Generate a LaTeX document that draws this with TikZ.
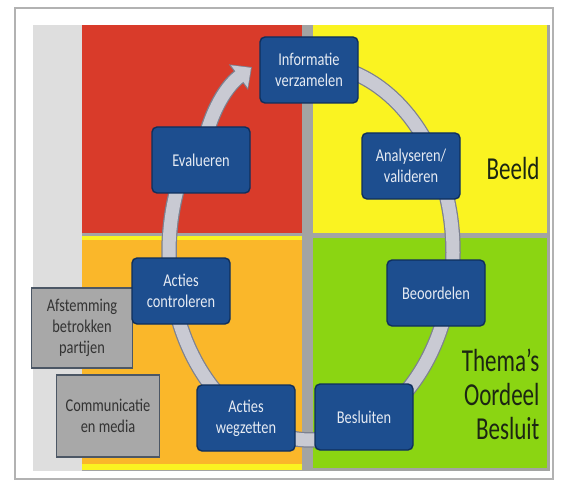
\documentclass[tikz,border=0pt]{standalone}
\usepackage{fontspec}
\setmainfont{Carlito}[FakeStretch=0.8]
\newfontfamily\kopfont{Carlito}[FakeStretch=0.72]
\usetikzlibrary{arrows.meta,backgrounds}
\definecolor{rood}{HTML}{D93B2A}
\definecolor{geel}{HTML}{FAF321}
\definecolor{oranje}{HTML}{FAB72A}
\definecolor{groen}{HTML}{8BD512}
\definecolor{spleet}{HTML}{A3A4A3}
\definecolor{strook}{HTML}{DEDEDE}
\definecolor{ringgrijs}{HTML}{C9CAD3}
\definecolor{ringrand}{HTML}{7D8190}
\definecolor{boxblauw}{HTML}{1D4E8F}
\definecolor{boxrand}{HTML}{0F2F5C}
\definecolor{boxtekst}{HTML}{E6EBF3}
\definecolor{grijsvak}{HTML}{A8A8A8}
\definecolor{grijsrand}{HTML}{4C5765}
\definecolor{koptekst}{HTML}{1C2612}
\begin{document}
\begin{tikzpicture}[x=1pt,y=-1pt,
    stap/.style={draw=boxrand,fill=boxblauw,line width=1.4pt,rounded corners=5pt,
      minimum width=98pt,minimum height=66pt,text=boxtekst,align=center,
      font=\fontsize{18}{21}\selectfont},
    grijsbox/.style={draw=grijsrand,fill=grijsvak,line width=1.6pt,text=black!80,
      align=center,font=\fontsize{18}{21}\selectfont},
    kop/.style={text=koptekst,anchor=east,align=right,font=\kopfont\fontsize{32}{34}\selectfont}]
  \useasboundingbox (0,0) rectangle (561,486);
  \node[stap] (info) at (309,70) {Informatie\\verzamelen};
  \node[stap] (eval) at (201,160) {Evalueren};
  \node[stap] (anal) at (411,166) {Analyseren/\\valideren};
  \node[grijsbox,minimum width=101pt,minimum height=80pt] (afst) at (82,328) {Afstemming\\betrokken\\partijen};
  \node[grijsbox,minimum width=103pt,minimum height=82pt] (comm) at (108,416) {Communicatie\\en media};
  \node[stap] (contr) at (181,291) {Acties\\controleren};
  \node[stap] (beoor) at (436,293) {Beoordelen};
  \node[stap] (wegz) at (246,418) {Acties\\wegzetten};
  \node[stap] (besl) at (364,417) {Besluiten};
  \node[kop] (beeld) at (543,168) {Beeld};
  \node[kop] (thema) at (543,394) {Thema’s\\Oordeel\\Besluit};
  \coordinate (tip) at (252,67);
  \begin{scope}[on background layer]
    \fill[white] (0,0) rectangle (561,486);
    \draw[black!30,line width=1.5pt,fill=white] (15,8) rectangle (553,479);
    \fill[spleet] (33,25) rectangle (550,471);
    \fill[strook] (33,25) rectangle (82,471);
    \fill[rood] (82,25) rectangle (302,233);
    \fill[geel] (313,25) rectangle (547,233);
    \fill[geel] (82,236) rectangle (302,470);
    \fill[oranje] (82,240) rectangle (302,464);
    \fill[groen] (313,238) rectangle (547,468);
    \draw[line width=15.5pt,ringrand] plot[variable=\t,domain=90:-200,samples=120,smooth] ({311+142*cos(\t)},{252-188*sin(\t)});
    \draw[line width=13pt,ringgrijs] plot[variable=\t,domain=90:-200,samples=120,smooth] ({311+142*cos(\t)},{252-188*sin(\t)});
    \draw[line width=15.5pt,ringrand,-{Triangle[width=31pt,length=17pt]}] (eval.center) .. controls (207,118) and (224,88) .. (tip);
    \draw[line width=13pt,ringgrijs,-{Triangle[width=27pt,length=14.5pt]},shorten >=1.3pt] (eval.center) .. controls (207,118) and (224,88) .. (tip);
  \end{scope}
\end{tikzpicture}
\end{document}
